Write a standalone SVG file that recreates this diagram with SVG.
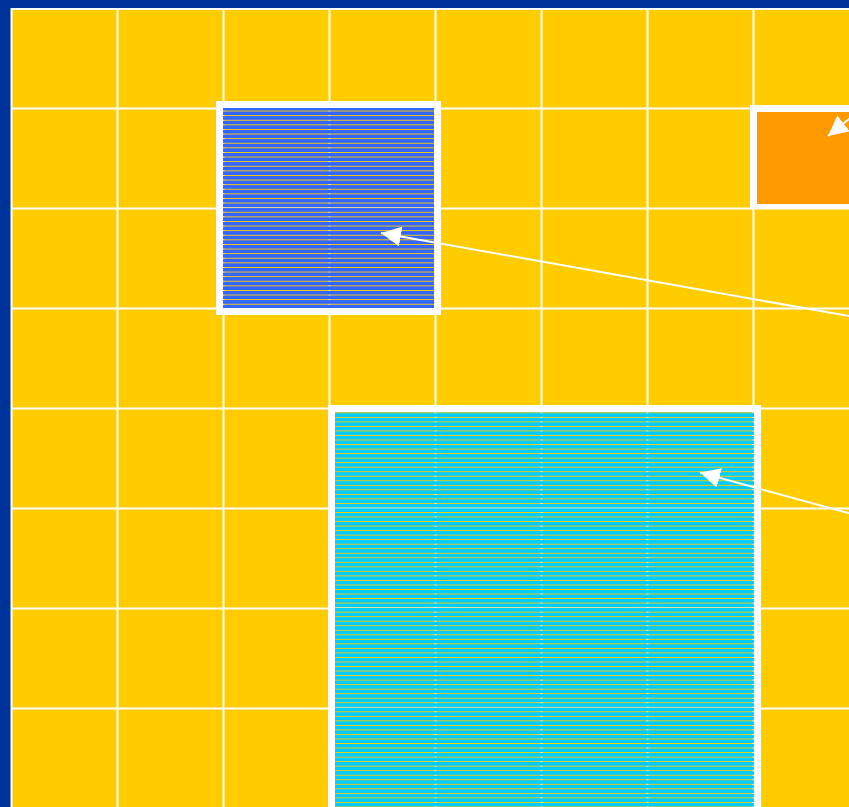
<svg xmlns="http://www.w3.org/2000/svg" width="849" height="807" viewBox="0 0 849 807">
<defs>
<style>
.grid line{stroke:#ffffff;stroke-width:2}
.frame{stroke:#ffffff;stroke-width:7}
.conn{stroke:#ffffff;stroke-width:2;fill:none}
.bar{shape-rendering:crispEdges}
</style>
<pattern id="pBlue" patternUnits="userSpaceOnUse" x="0" y="106.9" width="20" height="4.6">
<rect class="bar" x="0" y="0" width="20" height="3.6" fill="#3366ff"/>
</pattern>
<pattern id="pCyan" patternUnits="userSpaceOnUse" x="0" y="413.27" width="20" height="4.53">
<rect class="bar" x="0" y="0" width="20" height="3.53" fill="#00ccff"/>
</pattern>
<marker id="ah" viewBox="0 0 20 20" refX="20" refY="10" markerWidth="20" markerHeight="20" markerUnits="userSpaceOnUse" orient="auto">
<path d="M0,0 L20,10 L0,20 z" fill="#ffffff"/>
</marker>
</defs>
<rect x="0" y="0" width="849" height="807" fill="#003399"/>
<rect x="11" y="8" width="850" height="810" fill="#ffcc00"/>
<g class="grid">
<line x1="11.5" y1="8" x2="11.5" y2="807"/>
<line x1="117.5" y1="8" x2="117.5" y2="807"/>
<line x1="223.5" y1="8" x2="223.5" y2="807"/>
<line x1="329.5" y1="8" x2="329.5" y2="807"/>
<line x1="435.5" y1="8" x2="435.5" y2="807"/>
<line x1="541.5" y1="8" x2="541.5" y2="807"/>
<line x1="647.5" y1="8" x2="647.5" y2="807"/>
<line x1="753.5" y1="8" x2="753.5" y2="807"/>
<line x1="11" y1="9" x2="849" y2="9"/>
<line x1="11" y1="108.5" x2="849" y2="108.5"/>
<line x1="11" y1="208.5" x2="849" y2="208.5"/>
<line x1="11" y1="308.5" x2="849" y2="308.5"/>
<line x1="11" y1="408.5" x2="849" y2="408.5"/>
<line x1="11" y1="508.5" x2="849" y2="508.5"/>
<line x1="11" y1="608.5" x2="849" y2="608.5"/>
<line x1="11" y1="708.5" x2="849" y2="708.5"/>
</g>
<g id="node-blue">
<rect class="frame" x="219.5" y="104.5" width="218" height="207" fill="url(#pBlue)"/>
</g>
<g id="node-cyan">
<rect class="frame" x="331.5" y="408.5" width="426" height="500" fill="url(#pCyan)"/>
</g>
<g id="node-orange">
<rect x="750" y="105" width="200" height="103" fill="#ffffff"/>
<rect x="757" y="112" width="200" height="92" fill="#ff9900"/>
</g>
<g id="connectors">
<line class="conn" x1="860" y1="318" x2="381" y2="233" marker-end="url(#ah)"/>
<line class="conn" x1="860" y1="516.3" x2="700" y2="472.5" marker-end="url(#ah)"/>
<line class="conn" x1="880" y1="94" x2="828" y2="136" marker-end="url(#ah)"/>
</g>
</svg>
